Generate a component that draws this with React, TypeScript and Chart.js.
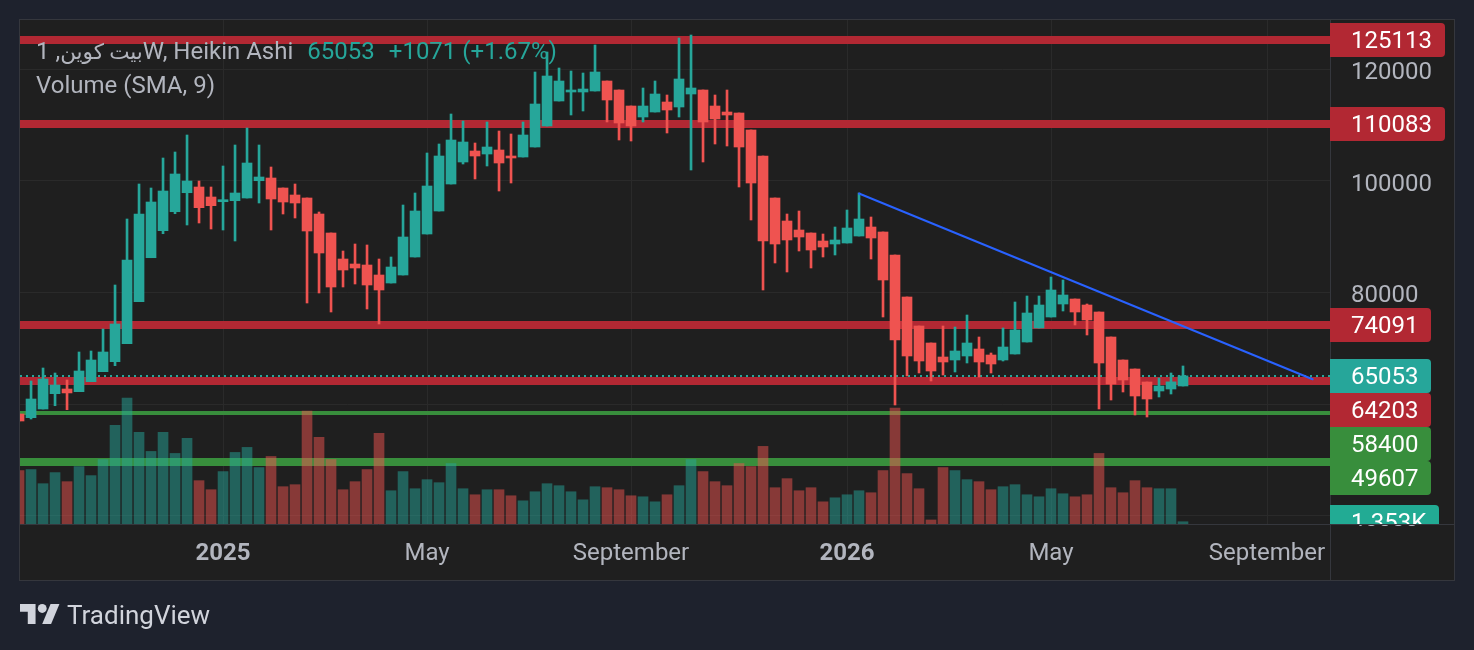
import { useEffect, useRef } from "react";
import { Chart, registerables } from "chart.js";

Chart.register(...registerables);

// ---------------- data ----------------
// weekly Heikin Ashi bars; bar index 16 = week of 2025-01-06, bar -1 is the partly visible first bar
const FIRST_BAR = -1;

const opens = [
  58228, 57565, 59123, 61863, 62704, 62221, 64011, 65802, 67592, 70815,
  78335, 86213, 91048, 94449, 97851, 98872, 97082, 96240, 96419, 96903,
  100000, 100483, 98693, 97440, 96903, 94037, 90636, 85980, 85085, 84906,
  83116, 81683, 83116, 86339, 90456, 94575, 99409, 103348, 105318, 104781,
  105497, 104422, 104243, 106034, 109794, 114270, 115882, 115882, 116061, 117851,
  116240, 113375, 111406, 112301, 114091, 113196, 115524, 116240, 113375, 112301,
  112122, 109078, 104422, 96903, 92785, 91173, 90636, 89203, 88667, 88845,
  90098, 91710, 90815, 86697, 79176, 73984, 70941, 68434, 67896, 68613,
  69866, 68792, 67896, 68971, 71120, 73626, 75596, 77923, 78818, 77744,
  76491, 72014, 67896, 66285, 63958, 62347, 62704, 63242,
];
const highs = [
  58228, 64136, 66464, 65569, 64315, 69329, 69508, 73447, 81325, 93143,
  99409, 98693, 104064, 105139, 108182, 99946, 98872, 102632, 106392, 109436,
  106392, 102453, 98693, 99409, 96903, 94396, 90636, 87413, 88667, 88489,
  85980, 86339, 95649, 97798, 104960, 106571, 111943, 110689, 106750, 110510,
  108899, 108362, 110510, 119463, 123044, 120179, 119642, 119284, 124297, 117851,
  116240, 113375, 116598, 117851, 115345, 125551, 126088, 116240, 115345, 116240,
  112122, 109078, 104422, 96903, 94037, 94575, 90636, 90456, 91710, 94754,
  97798, 93501, 90815, 86697, 79176, 73984, 70941, 73984, 73805, 75953,
  72014, 69150, 73626, 78281, 79355, 79355, 82757, 82220, 78818, 77923,
  76491, 72014, 67896, 66285, 63958, 64673, 65569, 66824,
];
const lows = [
  56974, 57331, 59123, 59713, 59000, 62221, 64011, 65802, 66876, 70815,
  78335, 86213, 90510, 94091, 92068, 92426, 91352, 91173, 89203, 96903,
  96007, 91173, 94037, 93322, 78102, 79893, 76491, 80967, 81505, 77028,
  74342, 81683, 83116, 86339, 90456, 94575, 99409, 102990, 100305, 102632,
  98156, 99588, 104243, 106034, 109794, 114270, 111764, 112480, 116061, 110510,
  107287, 107108, 110510, 112301, 108541, 111406, 101916, 103348, 106571, 106213,
  98872, 92964, 80430, 85264, 83653, 87413, 84369, 86339, 86697, 88845,
  90098, 85980, 75596, 59839, 65032, 65569, 64136, 65211, 65748, 67360,
  64852, 65569, 67717, 68971, 71120, 73626, 75596, 76670, 74163, 72373,
  59123, 60734, 62167, 58049, 57690, 61273, 61809, 63242,
];
const closes = [
  56974, 60913, 64494, 63420, 62000, 65927, 67896, 69329, 74342, 85801,
  94037, 96186, 98156, 101200, 99946, 95166, 95524, 96598, 97798, 103169,
  100663, 96724, 96186, 96007, 90994, 87055, 80967, 84011, 84369, 81325,
  80430, 84548, 89920, 94575, 99051, 104422, 107287, 106929, 104422, 106034,
  103169, 104064, 108182, 113733, 118747, 117851, 116240, 116419, 119463, 114449,
  110331, 109794, 113375, 115524, 112659, 118210, 116598, 110510, 111048, 111764,
  106034, 99588, 89203, 88667, 89383, 89920, 87592, 88129, 89383, 91531,
  93143, 89741, 82220, 71478, 68613, 67717, 65927, 67539, 69508, 70941,
  67539, 67181, 70224, 73268, 76312, 77744, 80430, 79534, 76491, 75059,
  67360, 63600, 64315, 61451, 60913, 63242, 63982, 65053,
];
// weekly volume, thousands
const volumesK = [
  31.8, 32.4, 24.0, 30.6, 25.2, 34.2, 28.8, 38.4, 58.8, 75.0,
  54.6, 43.2, 54.6, 42.0, 51.0, 25.8, 20.4, 31.2, 42.6, 45.6,
  33.6, 40.2, 22.2, 23.4, 67.2, 51.6, 38.4, 20.4, 25.2, 32.4,
  54.0, 19.8, 31.2, 21.0, 26.4, 24.6, 36.0, 21.0, 17.4, 20.4,
  20.4, 16.8, 13.8, 19.2, 24.0, 22.8, 19.2, 14.4, 22.2, 21.6,
  20.4, 16.8, 16.2, 13.2, 17.4, 22.8, 38.4, 31.2, 25.2, 22.8,
  36.0, 34.2, 46.2, 21.6, 27.0, 19.8, 21.6, 13.2, 15.6, 17.4,
  19.8, 18.6, 31.8, 69.0, 30.0, 21.0, 2.4, 33.6, 31.8, 26.4,
  25.2, 20.4, 22.2, 23.4, 17.4, 16.2, 21.0, 18.0, 16.2, 17.4,
  42.0, 21.6, 18.6, 25.8, 21.6, 21.0, 21.0, 1.353,
];

const timeTickBars = [16, 33, 50, 68, 85, 103];
const timeTickLabels = ["2025", "May", "September", "2026", "May", "September"];
const yearLabels = ["2025", "2026"];
const xRange = [-0.92, 108.25];

const priceTicks = [40000, 60000, 80000, 100000, 120000];
const priceRange = [38532, 128774];

const levelPrices = [125113, 110083, 74091, 64203, 58400, 49607];
const levelKinds = ["resistance", "resistance", "resistance", "resistance", "support", "support"];

const lastPrice = 65053;
const lastChange = 1071;
const lastChangePct = 1.67;
const lastVolumeK = 1.353;
const lastVolumeLabel = "1.353K";

const trendBars = [69, 106.8];
const trendPrices = [97700, 64450];

const symbolName = "بيت كوين";
const symbolSuffix = ", 1W, Heikin Ashi";
const volumeTitle = "Volume (SMA, 9)";
const brandName = "TradingView";

// ---------------- styles ----------------
const PAGE_BG = "#1e222d";
const PANE_BG = "#1f1f1f";
const BORDER = "#35373d";
const GRID = "#2a2a2a";
const TEXT = "#b2b5be";
const UP = "#26a69a";
const DOWN = "#ef5350";
const UP_VOL = "rgba(38,166,154,0.5)";
const DOWN_VOL = "rgba(239,83,80,0.5)";
const RES = "#b22833";
const SUP = "#388e3c";
const VOL_TAG = "#22ab94";
const TREND = "#2962ff";
const FONT = "Roboto, 'DejaVu Sans', sans-serif";
const AXIS_FONT_SIZE = 24;
const levelLineWidths = [8, 8, 8, 8, 4, 8];
const TAG_H = 34;
const TAG_PAD_L = 21;
const TAG_PAD_R = 13;

const framePlugin = {
  id: "frame",
  beforeDraw(chart: any) {
    const { ctx, chartArea } = chart;
    const ys = chart.scales.y;
    const xs = chart.scales.x;
    ctx.save();
    ctx.fillStyle = PANE_BG;
    ctx.fillRect(chartArea.left, chartArea.top, ys.right - chartArea.left, xs.bottom - chartArea.top);
    ctx.restore();
  },
  beforeDatasetsDraw(chart: any) {
    const { ctx, chartArea } = chart;
    const ys = chart.scales.y;
    ctx.save();
    ctx.beginPath();
    ctx.rect(chartArea.left, chartArea.top, chartArea.right - chartArea.left, chartArea.bottom - chartArea.top);
    ctx.clip();
    levelPrices.forEach((p, k) => {
      const y = Math.round(ys.getPixelForValue(p));
      const w = levelLineWidths[k];
      ctx.fillStyle = levelKinds[k] === "support" ? SUP : RES;
      ctx.fillRect(chartArea.left, y - w / 2, chartArea.right - chartArea.left, w);
    });
    const py = Math.round(ys.getPixelForValue(lastPrice));
    ctx.strokeStyle = UP;
    ctx.lineWidth = 2;
    ctx.setLineDash([2, 4]);
    ctx.beginPath();
    ctx.moveTo(chartArea.left, py);
    ctx.lineTo(chartArea.right, py);
    ctx.stroke();
    ctx.restore();
  },
  afterDatasetsDraw(chart: any) {
    const { ctx, chartArea } = chart;
    const ys = chart.scales.y;
    const xs = chart.scales.x;
    ctx.save();
    ctx.beginPath();
    ctx.rect(chartArea.left, chartArea.top, chartArea.right - chartArea.left, chartArea.bottom - chartArea.top);
    ctx.clip();
    ctx.strokeStyle = TREND;
    ctx.lineWidth = 2;
    ctx.lineCap = "round";
    ctx.beginPath();
    ctx.moveTo(xs.getPixelForValue(trendBars[0]), ys.getPixelForValue(trendPrices[0]));
    ctx.lineTo(xs.getPixelForValue(trendBars[1]), ys.getPixelForValue(trendPrices[1]));
    ctx.stroke();
    ctx.restore();
  },
  afterDraw(chart: any) {
    const { ctx, chartArea } = chart;
    const ys = chart.scales.y;
    const xs = chart.scales.x;
    const vs = chart.scales.v;
    ctx.save();
    ctx.strokeStyle = BORDER;
    ctx.lineWidth = 1;
    ctx.strokeRect(chartArea.left - 0.5, chartArea.top - 0.5, ys.right - chartArea.left + 1, xs.bottom - chartArea.top + 1);
    ctx.beginPath();
    ctx.moveTo(chartArea.right + 0.5, chartArea.top);
    ctx.lineTo(chartArea.right + 0.5, xs.bottom);
    ctx.moveTo(chartArea.left, chartArea.bottom + 0.5);
    ctx.lineTo(ys.right, chartArea.bottom + 0.5);
    ctx.stroke();
    ctx.restore();

    const tags: { text: string; color: string; y: number }[] = levelPrices.map((p, k) => ({
      text: String(p),
      color: levelKinds[k] === "support" ? SUP : RES,
      y: ys.getPixelForValue(p),
    }));
    tags.push({ text: String(lastPrice), color: UP, y: ys.getPixelForValue(lastPrice) });
    tags.push({ text: lastVolumeLabel, color: VOL_TAG, y: vs.getPixelForValue(lastVolumeK) });
    tags.sort((a, b) => a.y - b.y);

    ctx.save();
    ctx.beginPath();
    ctx.rect(ys.left, chartArea.top, ys.right - ys.left, chartArea.bottom - chartArea.top);
    ctx.clip();
    ctx.font = `${AXIS_FONT_SIZE}px ${FONT}`;
    ctx.textBaseline = "middle";
    ctx.textAlign = "left";
    let prevBottom = -Infinity;
    for (const t of tags) {
      const top = Math.max(Math.round(t.y - TAG_H / 2), prevBottom);
      const w = Math.round(TAG_PAD_L + ctx.measureText(t.text).width + TAG_PAD_R);
      ctx.fillStyle = t.color;
      ctx.beginPath();
      ctx.roundRect(ys.left, top, w, TAG_H, [0, 4, 4, 0]);
      ctx.fill();
      ctx.fillStyle = "#ffffff";
      ctx.fillText(t.text, ys.left + TAG_PAD_L, top + TAG_H / 2 + 2);
      prevBottom = top + TAG_H;
    }
    ctx.restore();
  },
};

export default function App() {
  const canvasRef = useRef<HTMLCanvasElement>(null);

  useEffect(() => {
    const canvas = canvasRef.current;
    if (!canvas) return;
    const bars = opens.map((_, k) => FIRST_BAR + k);
    const isUp = closes.map((c, k) => c >= opens[k]);
    const candleColors = isUp.map((u) => (u ? UP : DOWN));
    const volColors = isUp.map((u) => (u ? UP_VOL : DOWN_VOL));
    const maxVol = Math.max(...volumesK);

    const chart = new Chart(canvas, {
      type: "bar",
      data: {
        datasets: [
          {
            label: "Volume",
            yAxisID: "v",
            data: bars.map((x, k) => ({ x, y: volumesK[k] })),
            backgroundColor: volColors,
            barThickness: 10,
            grouped: false,
            order: 3,
            clip: 0,
          } as any,
          {
            label: "Wicks",
            yAxisID: "y",
            data: bars.map((x, k) => ({ x, y: [lows[k], highs[k]] })),
            backgroundColor: candleColors,
            barThickness: 2,
            grouped: false,
            order: 2,
            clip: 0,
          } as any,
          {
            label: "Bodies",
            yAxisID: "y",
            data: bars.map((x, k) => ({ x, y: [opens[k], closes[k]] })),
            backgroundColor: candleColors,
            barThickness: 10,
            minBarLength: 2,
            grouped: false,
            order: 1,
            clip: 0,
          } as any,
        ],
      },
      options: {
        animation: false,
        responsive: false,
        devicePixelRatio: 1,
        layout: { padding: { left: 20, top: 20, right: 20, bottom: 70 } },
        plugins: { legend: { display: false }, tooltip: { enabled: false } },
        events: [],
        scales: {
          x: {
            type: "linear",
            min: xRange[0],
            max: xRange[1],
            offset: false,
            position: "bottom",
            grid: { color: GRID, drawTicks: false, offset: false },
            border: { display: false },
            afterBuildTicks: (s: any) => {
              s.ticks = timeTickBars.map((value) => ({ value }));
            },
            afterFit: (s: any) => {
              s.height = 56;
              s.paddingLeft = 0;
              s.paddingRight = 0;
            },
            ticks: {
              autoSkip: false,
              maxRotation: 0,
              padding: 16,
              color: TEXT,
              font: (c: any) => {
                const lbl = timeTickLabels[timeTickBars.indexOf(c.tick ? c.tick.value : NaN)];
                return { family: FONT, size: AXIS_FONT_SIZE, weight: yearLabels.includes(lbl) ? "bold" : "normal" };
              },
              callback: (value: any) => timeTickLabels[timeTickBars.indexOf(Number(value))] ?? "",
            },
          },
          y: {
            type: "linear",
            position: "right",
            min: priceRange[0],
            max: priceRange[1],
            grid: { color: GRID, drawTicks: false },
            border: { display: false },
            afterBuildTicks: (s: any) => {
              s.ticks = priceTicks.map((value) => ({ value }));
            },
            afterFit: (s: any) => {
              s.width = 124;
              s.paddingTop = 0;
              s.paddingBottom = 0;
            },
            ticks: {
              padding: 21,
              labelOffset: 4,
              color: TEXT,
              font: { family: FONT, size: AXIS_FONT_SIZE },
              callback: (value: any) => String(value),
            },
          },
          v: {
            type: "linear",
            display: false,
            min: 0,
            max: maxVol * 4,
          },
        },
      } as any,
      plugins: [framePlugin],
    });

    const fonts = (document as any).fonts;
    if (fonts && fonts.load) {
      Promise.all([
        fonts.load(`${AXIS_FONT_SIZE}px Roboto`),
        fonts.load(`bold ${AXIS_FONT_SIZE}px Roboto`),
      ]).then(() => chart.update());
    }
    return () => chart.destroy();
  }, []);

  const textFont = `24px ${FONT}`;
  return (
    <div style={{ position: "fixed", inset: 0, background: PAGE_BG, overflow: "hidden" }}>
      <canvas
        ref={canvasRef}
        width={1474}
        height={650}
        style={{ position: "absolute", left: 0, top: 0, width: 1474, height: 650 }}
      />
      <div
        style={{
          position: "absolute",
          left: 36,
          top: 38,
          font: textFont,
          lineHeight: "26px",
          color: TEXT,
          whiteSpace: "nowrap",
          direction: "ltr",
        }}
      >
        <span style={{ fontSize: 21.5 }}>{symbolName}</span>
        {symbolSuffix}
        <span style={{ color: UP, marginLeft: 14 }}>{lastPrice}</span>
        <span style={{ color: UP, marginLeft: 14 }}>
          +{lastChange} (+{lastChangePct}%)
        </span>
      </div>
      <div
        style={{
          position: "absolute",
          left: 36,
          top: 72,
          font: textFont,
          lineHeight: "26px",
          color: TEXT,
          whiteSpace: "nowrap",
        }}
      >
        {volumeTitle}
      </div>
      <svg
        width="40"
        height="20"
        viewBox="0 4 36 18"
        style={{ position: "absolute", left: 20, top: 604 }}
      >
        <path d="M14 22H7V11H0V4h14v18z" fill="#d1d4dc" />
        <path d="M28 22h-8l7.5-18h8L28 22z" fill="#d1d4dc" />
        <circle cx="20" cy="8" r="4" fill="#d1d4dc" />
      </svg>
      <div
        style={{
          position: "absolute",
          left: 67,
          top: 600,
          font: `26px ${FONT}`,
          lineHeight: "30px",
          color: "#d1d4dc",
          whiteSpace: "nowrap",
        }}
      >
        {brandName}
      </div>
    </div>
  );
}
